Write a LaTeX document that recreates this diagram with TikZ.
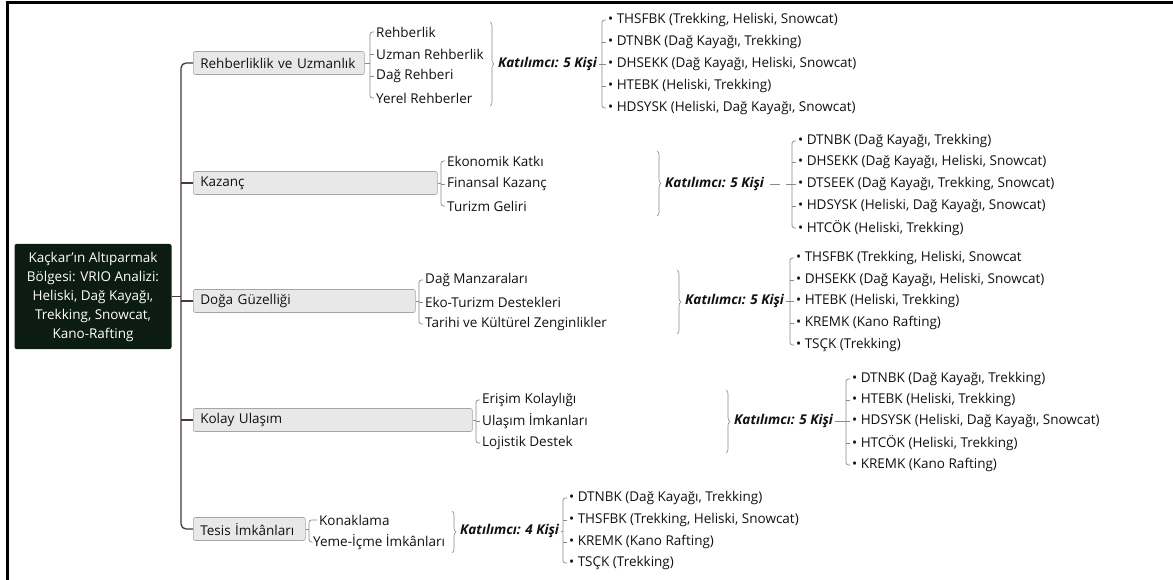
\documentclass[tikz,border=0pt]{standalone}
\usepackage{fontspec}
\setmainfont{Open Sans}
\usetikzlibrary{decorations.pathreplacing,calc}
\definecolor{rootc}{HTML}{0C1C12}
\definecolor{boxf}{HTML}{E8E8E8}
\definecolor{boxd}{HTML}{A6A6A6}
\definecolor{linec}{HTML}{8A8A8A}
\definecolor{trunkc}{HTML}{463A3A}
\definecolor{txtc}{HTML}{111111}
\newcommand\fsub{\fontsize{13.5}{16}\selectfont}
\newcommand\fbr{\fontsize{13.5}{16}\selectfont}
\newcommand\fkat{\fontsize{13.5}{16}\selectfont\bfseries\itshape}
\newcommand\froot{\fontsize{13.5}{19}\selectfont}
\begin{document}
\begin{tikzpicture}[x=1pt,y=-1pt,
  txt/.style={font=\fsub, text=txtc, inner xsep=2pt, inner ysep=1pt, anchor=west},
  kat/.style={font=\fkat, text=txtc, inner xsep=2pt, inner ysep=1pt, anchor=west},
  branch/.style={draw=boxd, fill=boxf, rounded corners=2pt, line width=0.6pt, anchor=west,
    minimum height=23pt, inner xsep=7pt, inner ysep=0pt, font=\fbr, text=txtc, align=left},
  gl/.style={draw=linec, line width=0.7pt},
  glr/.style={draw=linec, line width=0.7pt, rounded corners=2.5pt},
  trunk/.style={draw=trunkc, line width=1.3pt},
  rootbox/.style={fill=rootc, rounded corners=2pt, text=white, align=center, font=\froot,
    minimum width=157pt, minimum height=105pt, inner sep=0pt},
  bracebr/.style={decorate, decoration={brace, amplitude=4pt}, draw=linec, line width=0.6pt}
]
\useasboundingbox (0,0) rectangle (1173,580);
\fill[white] (0,0) rectangle (1173,580);
% frame
\draw[line width=3pt] (7.5,580) -- (7.5,2.5) -- (1173,2.5);

% root
\node[rootbox] (root) at (93,296.5) {Kaçkar'ın Altıparmak\\Bölgesi: VRIO Analizi:\\Heliski, Dağ Kayağı,\\Trekking, Snowcat,\\Kano-Rafting};

% branch boxes
\node[branch, text width=157pt] (b1) at (193,63) {Rehberliklik ve Uzmanlık};
\node[branch, text width=230pt] (b2) at (193,183) {Kazanç};
\node[branch, text width=208pt] (b3) at (193,301) {Doğa Güzelliği};
\node[branch, text width=265pt] (b4) at (193,420) {Kolay Ulaşım};
\node[branch, text width=98pt] (b5) at (193,529) {Tesis İmkânları};

% trunk
\coordinate (tr) at (181,296.5);
\draw[trunk, rounded corners=5pt] (b1.west) -| (tr) |- (b5.west);
\draw[trunk] (b2.west) -- (b2.west -| tr);
\draw[trunk] (b3.west) -- (b3.west -| tr);
\draw[trunk] (b4.west) -- (b4.west -| tr);
\draw[trunk] (root.east) -- (tr);

% ---------- Row 1 ----------
\coordinate (sb1) at (370,63);
\node[txt] (r1a) at (374,32) {Rehberlik};
\node[txt] (r1b) at (374,54) {Uzman Rehberlik};
\node[txt] (r1c) at (374,76) {Dağ Rehberi};
\node[txt] (r1d) at (374,98) {Yerel Rehberler};
\draw[glr] (r1a.west) -| (sb1) |- (r1d.west);
\draw[gl] (r1b.west -| sb1) -- (r1b.west);
\draw[gl] (r1c.west -| sb1) -- (r1c.west);
\draw[gl] (b1.east) -- (sb1);
\coordinate (br1t) at (490,22); \coordinate (br1b) at (490,106);
\draw[bracebr] (br1t) -- (br1b);
\node[kat] (k1) at (496,64) {Katılımcı: 5 Kişi};
\coordinate (lb1) at (602,64);
\node[txt] (l1a) at (606,20) {• THSFBK (Trekking, Heliski, Snowcat)};
\node[txt] (l1b) at (606,42) {• DTNBK (Dağ Kayağı, Trekking)};
\node[txt] (l1c) at (606,64) {• DHSEKK (Dağ Kayağı, Heliski, Snowcat)};
\node[txt] (l1d) at (606,86) {• HTEBK (Heliski, Trekking)};
\node[txt] (l1e) at (606,108) {• HDSYSK (Heliski, Dağ Kayağı, Snowcat)};
\draw[gl] (k1.east) -- (lb1);
\draw[glr] (l1a.west) -| (lb1) |- (l1e.west);
\draw[gl] (l1b.west -| lb1) -- (l1b.west);
\draw[gl] (lb1) -- (l1c.west);
\draw[gl] (l1d.west -| lb1) -- (l1d.west);

% ---------- Row 2 ----------
\coordinate (sb2) at (441,183);
\node[txt] (r2a) at (445,161) {Ekonomik Katkı};
\node[txt] (r2b) at (445,184) {Finansal Kazanç};
\node[txt] (r2c) at (445,206) {Turizm Geliri};
\draw[glr] (r2a.west) -| (sb2) |- (r2c.west);
\draw[gl] (r2b.west -| sb2) -- (r2b.west);
\draw[gl] (b2.east) -- (sb2);
\coordinate (br2t) at (657,151); \coordinate (br2b) at (657,216);
\draw[bracebr] (br2t) -- (br2b);
\node[kat] (k2) at (663,184) {Katılımcı: 5 Kişi};
\coordinate (lb2) at (792,184);
\node[txt] (l2a) at (796,141) {• DTNBK (Dağ Kayağı, Trekking)};
\node[txt] (l2b) at (796,162) {• DHSEKK (Dağ Kayağı, Heliski, Snowcat)};
\node[txt] (l2c) at (796,184) {• DTSEEK (Dağ Kayağı, Trekking, Snowcat)};
\node[txt] (l2d) at (796,206) {• HDSYSK (Heliski, Dağ Kayağı, Snowcat)};
\node[txt] (l2e) at (796,228) {• HTCÖK (Heliski, Trekking)};
\coordinate (d2a) at ($(k2.east)+(4,0)$);
\coordinate (d2b) at ($(k2.east)+(14,0)$);
\draw[gl] (d2a) -- (d2b);
\coordinate (lt2) at ($(lb2)+(-6,0)$);
\draw[gl] (lt2) -- (l2c.west);
\draw[glr] (l2a.west) -| (lb2) |- (l2e.west);
\draw[gl] (l2b.west -| lb2) -- (l2b.west);
\draw[gl] (l2d.west -| lb2) -- (l2d.west);

% ---------- Row 3 ----------
\coordinate (sb3) at (419,301);
\node[txt] (r3a) at (423,280) {Dağ Manzaraları};
\node[txt] (r3b) at (423,302) {Eko-Turizm Destekleri};
\node[txt] (r3c) at (423,324) {Tarihi ve Kültürel Zenginlikler};
\draw[glr] (r3a.west) -| (sb3) |- (r3c.west);
\draw[gl] (r3b.west -| sb3) -- (r3b.west);
\draw[gl] (b3.east) -- (sb3);
\coordinate (br3t) at (677,270); \coordinate (br3b) at (677,334);
\draw[bracebr] (br3t) -- (br3b);
\node[kat] (k3) at (683,301) {Katılımcı: 5 Kişi};
\coordinate (lb3) at (790,301);
\node[txt] (l3a) at (794,258) {• THSFBK (Trekking, Heliski, Snowcat};
\node[txt] (l3b) at (794,280) {• DHSEKK (Dağ Kayağı, Heliski, Snowcat)};
\node[txt] (l3c) at (794,301) {• HTEBK (Heliski, Trekking)};
\node[txt] (l3d) at (794,323) {• KREMK (Kano Rafting)};
\node[txt] (l3e) at (794,345) {• TSÇK (Trekking)};
\draw[gl] (k3.east) -- (lb3);
\draw[glr] (l3a.west) -| (lb3) |- (l3e.west);
\draw[gl] (l3b.west -| lb3) -- (l3b.west);
\draw[gl] (lb3) -- (l3c.west);
\draw[gl] (l3d.west -| lb3) -- (l3d.west);

% ---------- Row 4 ----------
\coordinate (sb4) at (476,420);
\node[txt] (r4a) at (480,400) {Erişim Kolaylığı};
\node[txt] (r4b) at (480,421) {Ulaşım İmkanları};
\node[txt] (r4c) at (480,443) {Lojistik Destek};
\draw[glr] (r4a.west) -| (sb4) |- (r4c.west);
\draw[gl] (r4b.west -| sb4) -- (r4b.west);
\draw[gl] (b4.east) -- (sb4);
\coordinate (br4t) at (726,390); \coordinate (br4b) at (726,453);
\draw[bracebr] (br4t) -- (br4b);
\node[kat] (k4) at (732,421) {Katılımcı: 5 Kişi};
\coordinate (lb4) at (846,421);
\node[txt] (l4a) at (850,379) {• DTNBK (Dağ Kayağı, Trekking)};
\node[txt] (l4b) at (850,400) {• HTEBK (Heliski, Trekking)};
\node[txt] (l4c) at (850,421) {• HDSYSK (Heliski, Dağ Kayağı, Snowcat)};
\node[txt] (l4d) at (850,443) {• HTCÖK (Heliski, Trekking)};
\node[txt] (l4e) at (850,465) {• KREMK (Kano Rafting)};
\draw[gl] (k4.east) -- (lb4);
\draw[glr] (l4a.west) -| (lb4) |- (l4e.west);
\draw[gl] (l4b.west -| lb4) -- (l4b.west);
\draw[gl] (lb4) -- (l4c.west);
\draw[gl] (l4d.west -| lb4) -- (l4d.west);

% ---------- Row 5 ----------
\coordinate (sb5) at (309,529);
\node[txt] (r5a) at (317,520) {Konaklama};
\node[txt] (r5b) at (311,542) {Yeme-İçme İmkânları};
\draw[glr] (r5a.west) -| (sb5) |- (r5b.west);
\draw[gl] (b5.east) -- (sb5);
\coordinate (br5t) at (452,511); \coordinate (br5b) at (452,553);
\draw[bracebr] (br5t) -- (br5b);
\node[kat] (k5) at (458,531) {Katılımcı: 4 Kişi};
\coordinate (lb5) at (563,531);
\node[txt] (l5a) at (567,498) {• DTNBK (Dağ Kayağı, Trekking)};
\node[txt] (l5b) at (567,520) {• THSFBK (Trekking, Heliski, Snowcat)};
\node[txt] (l5c) at (567,542) {• KREMK (Kano Rafting)};
\node[txt] (l5d) at (567,563) {• TSÇK (Trekking)};
\draw[gl] (k5.east) -- (lb5);
\draw[glr] (l5a.west) -| (lb5) |- (l5d.west);
\draw[gl] (l5b.west -| lb5) -- (l5b.west);
\draw[gl] (l5c.west -| lb5) -- (l5c.west);
\end{tikzpicture}
\end{document}
